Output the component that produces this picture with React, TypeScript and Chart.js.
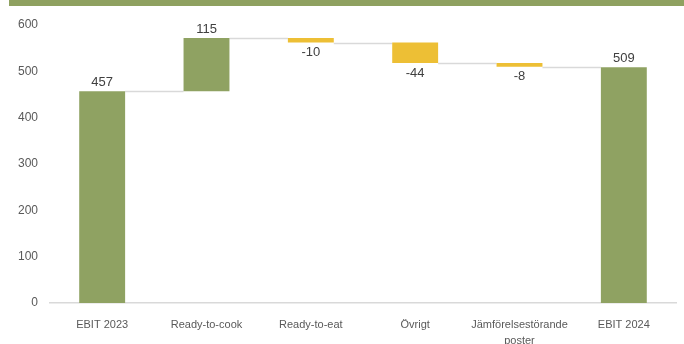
import React, { useEffect, useRef } from "react";
import { Chart, registerables } from "chart.js";

Chart.register(...registerables);

const categories: (string | string[])[] = [
  "EBIT 2023",
  "Ready-to-cook",
  "Ready-to-eat",
  "Övrigt",
  ["Jämförelsestörande", "poster"],
  "EBIT 2024",
];
const values: number[] = [457, 115, -10, -44, -8, 509];
const isTotal: boolean[] = [true, false, false, false, false, true];
const yTicks: number[] = [0, 100, 200, 300, 400, 500, 600];

const GREEN = "#8FA262";
const YELLOW = "#EDBF35";
const FONT = '"Liberation Sans", Arial, sans-serif';

export default function App() {
  const ref = useRef<HTMLCanvasElement | null>(null);

  useEffect(() => {
    document.body.style.margin = "0";
    const canvas = ref.current;
    if (!canvas) return;

    // build floating ranges and running totals from the values
    const ranges: [number, number][] = [];
    const levels: number[] = [];
    let running = 0;
    values.forEach((v, i) => {
      if (isTotal[i]) {
        ranges.push([0, v]);
        running = v;
      } else {
        ranges.push([running, running + v]);
        running = running + v;
      }
      levels.push(running);
    });
    const colors = values.map((v, i) => (isTotal[i] || v >= 0 ? GREEN : YELLOW));

    const connectors = {
      id: "connectors",
      beforeDatasetsDraw(chart: any) {
        const meta = chart.getDatasetMeta(0);
        const ys = chart.scales.y;
        const ctx = chart.ctx;
        ctx.save();
        ctx.strokeStyle = "#D9D9D9";
        ctx.lineWidth = 1.5;
        for (let i = 0; i < meta.data.length - 1; i++) {
          const a = meta.data[i];
          const b = meta.data[i + 1];
          const y = Math.round(ys.getPixelForValue(levels[i])) + 0.5;
          ctx.beginPath();
          ctx.moveTo(a.x + a.width / 2, y);
          ctx.lineTo(b.x - b.width / 2, y);
          ctx.stroke();
        }
        ctx.restore();
      },
    };

    const labels = {
      id: "valueLabels",
      afterDatasetsDraw(chart: any) {
        const meta = chart.getDatasetMeta(0);
        const ctx = chart.ctx;
        ctx.save();
        ctx.font = `13px ${FONT}`;
        ctx.fillStyle = "#404040";
        ctx.textAlign = "center";
        ctx.textBaseline = "middle";
        meta.data.forEach((el: any, i: number) => {
          const top = Math.min(el.y, el.base);
          const bottom = Math.max(el.y, el.base);
          const v = values[i];
          if (v >= 0) ctx.fillText(String(v), el.x, top - 9);
          else ctx.fillText(String(v), el.x, bottom + 10);
        });
        ctx.restore();
      },
    };

    const chart = new Chart(canvas, {
      type: "bar",
      data: {
        labels: categories as any,
        datasets: [
          {
            data: ranges as any,
            backgroundColor: colors,
            borderWidth: 0,
            barPercentage: 0.44,
            categoryPercentage: 1,
          },
        ],
      },
      options: {
        responsive: false,
        animation: false,
        devicePixelRatio: 1,
        layout: { padding: { left: 0, right: 8, top: 25, bottom: 0 } },
        plugins: {
          legend: { display: false },
          tooltip: { enabled: false },
          title: { display: false },
        },
        scales: {
          x: {
            grid: { display: false, drawTicks: false },
            border: { display: true, color: "#D9D9D9", width: 1.5 },
            ticks: {
              autoSkip: false,
              maxRotation: 0,
              minRotation: 0,
              padding: 14,
              color: "#595959",
              font: { family: FONT, size: 11, lineHeight: "16px" } as any,
            },
            afterFit(scale: any) {
              scale.height = 41;
            },
          },
          y: {
            min: 0,
            max: 600,
            afterBuildTicks(scale: any) {
              scale.ticks = yTicks.map((v) => ({ value: v }));
            },
            grid: { display: false, drawTicks: false },
            border: { display: false },
            ticks: {
              padding: 12,
              color: "#595959",
              font: { family: FONT, size: 12 },
            },
            afterFit(scale: any) {
              scale.width = 50;
            },
          },
        },
      },
      plugins: [connectors, labels],
    });

    return () => chart.destroy();
  }, []);

  return (
    <div style={{ position: "relative", width: 684, height: 344, background: "#fff", overflow: "hidden" }}>
      <canvas ref={ref} width={684} height={344} style={{ display: "block" }} />
      <div
        style={{
          position: "absolute",
          left: 9,
          top: 0,
          width: 675,
          height: 6,
          background: "#8FA160",
        }}
      />
    </div>
  );
}
